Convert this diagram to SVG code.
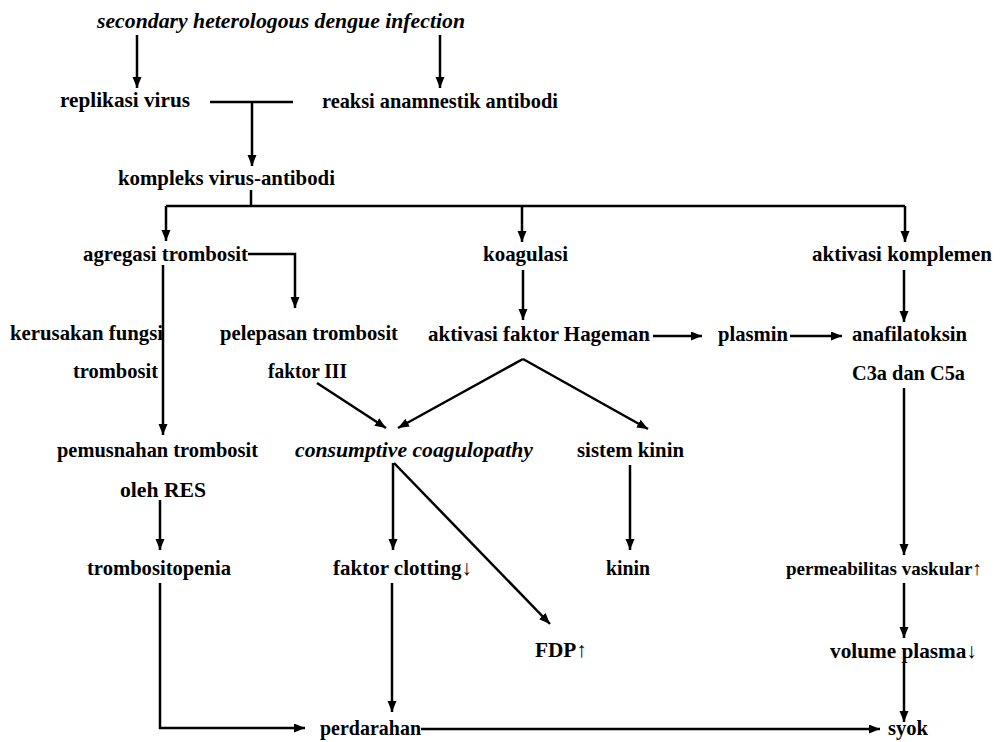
<svg xmlns="http://www.w3.org/2000/svg" width="1001" height="742" viewBox="0 0 1001 742">
<style>
text{font-family:"Liberation Serif","DejaVu Serif",serif;font-weight:bold;font-size:21.5px;fill:#000}
.it{font-style:italic}
.sm{font-size:19.5px}
.c{fill:none;stroke:#000;stroke-width:2.5}
.a{marker-end:url(#ah)}
</style>
<defs>
<marker id="ah" markerUnits="userSpaceOnUse" markerWidth="12" markerHeight="10" refX="11" refY="4.5" orient="auto">
<path d="M0,0 L11,4.5 L0,9 Z" fill="#000"/>
</marker>
</defs>
<rect width="1001" height="742" fill="#fff"/>
<g id="connectors">
<line class="c a" x1="137" y1="35" x2="137" y2="88"/>
<line class="c a" x1="440" y1="35" x2="440" y2="88"/>
<line class="c" x1="210" y1="102" x2="293" y2="102"/>
<line class="c a" x1="252" y1="102" x2="252" y2="166"/>
<polyline class="c" points="251,190 251,206"/>
<line class="c" x1="166" y1="206" x2="905" y2="206"/>
<line class="c a" x1="166" y1="206" x2="166" y2="241"/>
<line class="c a" x1="522" y1="206" x2="522" y2="242"/>
<line class="c a" x1="905" y1="206" x2="905" y2="242"/>
<polyline class="c a" points="248,254 295,254 295,308"/>
<line class="c a" x1="163" y1="265" x2="163" y2="435"/>
<line class="c a" x1="523" y1="270" x2="523" y2="320"/>
<line class="c a" x1="904" y1="270" x2="904" y2="322"/>
<line class="c a" x1="653" y1="336" x2="702" y2="336"/>
<line class="c a" x1="790" y1="336" x2="842" y2="336"/>
<polyline class="c a" points="523,359 398,428"/>
<line class="c a" x1="523" y1="359" x2="648" y2="429"/>
<line class="c a" x1="317" y1="383" x2="386" y2="428"/>
<line class="c a" x1="904" y1="388" x2="904" y2="555"/>
<line class="c a" x1="393" y1="463" x2="393" y2="550"/>
<line class="c a" x1="394" y1="463" x2="550" y2="624"/>
<line class="c a" x1="630" y1="465" x2="630" y2="550"/>
<line class="c a" x1="160" y1="500" x2="160" y2="550"/>
<polyline class="c a" points="160,583 160,728 305,728"/>
<line class="c a" x1="392" y1="583" x2="392" y2="712"/>
<line class="c a" x1="421" y1="729" x2="880" y2="729"/>
<line class="c a" x1="904" y1="583" x2="904" y2="638"/>
<line class="c a" x1="904" y1="663" x2="904" y2="722"/>
</g>
<g id="n-secondary"><text class="it" x="97" y="28" textLength="368" lengthAdjust="spacingAndGlyphs">secondary heterologous dengue infection</text></g>
<g id="n-replikasi"><text x="60" y="107" textLength="130" lengthAdjust="spacingAndGlyphs">replikasi virus</text></g>
<g id="n-reaksi"><text x="322" y="108" textLength="236" lengthAdjust="spacingAndGlyphs">reaksi anamnestik antibodi</text></g>
<g id="n-kompleks"><text x="118" y="185" textLength="217" lengthAdjust="spacingAndGlyphs">kompleks virus-antibodi</text></g>
<g id="n-agregasi"><text x="83" y="261" textLength="165" lengthAdjust="spacingAndGlyphs">agregasi trombosit</text></g>
<g id="n-koagulasi"><text x="483" y="261" textLength="85" lengthAdjust="spacingAndGlyphs">koagulasi</text></g>
<g id="n-komplemen"><text x="812" y="261" textLength="180" lengthAdjust="spacingAndGlyphs">aktivasi komplemen</text></g>
<g id="n-kerusakan"><text x="10" y="340" textLength="153" lengthAdjust="spacingAndGlyphs">kerusakan fungsi</text><text x="73" y="378" textLength="85" lengthAdjust="spacingAndGlyphs">trombosit</text></g>
<g id="n-pelepasan"><text x="220" y="340" textLength="178" lengthAdjust="spacingAndGlyphs">pelepasan trombosit</text><text x="268" y="378" textLength="79" lengthAdjust="spacingAndGlyphs">faktor III</text></g>
<g id="n-hageman"><text x="428" y="341" textLength="222" lengthAdjust="spacingAndGlyphs">aktivasi faktor Hageman</text></g>
<g id="n-plasmin"><text x="718" y="341" textLength="70" lengthAdjust="spacingAndGlyphs">plasmin</text></g>
<g id="n-anafilatoksin"><text x="852" y="341" textLength="115" lengthAdjust="spacingAndGlyphs">anafilatoksin</text><text x="852" y="380" textLength="113" lengthAdjust="spacingAndGlyphs">C3a dan C5a</text></g>
<g id="n-pemusnahan"><text x="57" y="457" textLength="201" lengthAdjust="spacingAndGlyphs">pemusnahan trombosit</text><text x="120" y="497" textLength="86" lengthAdjust="spacingAndGlyphs">oleh RES</text></g>
<g id="n-cc"><text class="it" x="295" y="457" textLength="238" lengthAdjust="spacingAndGlyphs">consumptive coagulopathy</text></g>
<g id="n-sistemkinin"><text x="577" y="457" textLength="107" lengthAdjust="spacingAndGlyphs">sistem kinin</text></g>
<g id="n-trombositopenia"><text x="87" y="575" textLength="144" lengthAdjust="spacingAndGlyphs">trombositopenia</text></g>
<g id="n-clotting"><text x="333" y="575" textLength="139" lengthAdjust="spacingAndGlyphs">faktor clotting↓</text></g>
<g id="n-kinin"><text x="606" y="575" textLength="44" lengthAdjust="spacingAndGlyphs">kinin</text></g>
<g id="n-permeabilitas"><text class="sm" x="786" y="575" textLength="196" lengthAdjust="spacingAndGlyphs">permeabilitas vaskular↑</text></g>
<g id="n-fdp"><text x="535" y="657" textLength="52" lengthAdjust="spacingAndGlyphs">FDP↑</text></g>
<g id="n-volume"><text x="830" y="658" textLength="147" lengthAdjust="spacingAndGlyphs">volume plasma↓</text></g>
<g id="n-perdarahan"><text x="320" y="735" textLength="101" lengthAdjust="spacingAndGlyphs">perdarahan</text></g>
<g id="n-syok"><text x="888" y="735" textLength="40" lengthAdjust="spacingAndGlyphs">syok</text></g>
</svg>
